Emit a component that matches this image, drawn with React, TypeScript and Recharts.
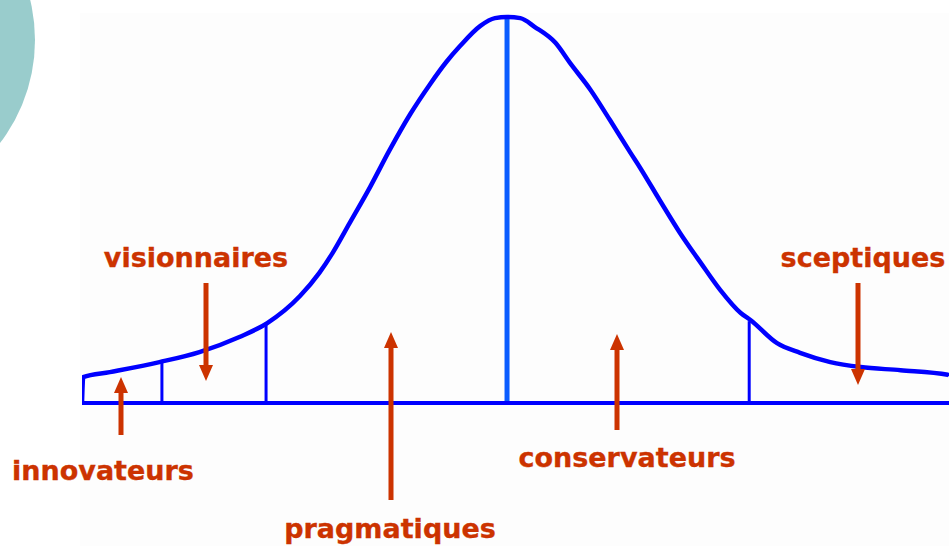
import React from 'react';
import { LineChart, Line, XAxis, YAxis, ReferenceLine } from 'recharts';

// bell curve, x in std-dev-ish units, y as % of the peak
const curveX = [
  -3.51, -3.5, -3.28, -2.87, -2.54, -2.21, -1.98, -1.71, -1.55, -1.44, -1.3, -1.13, -0.97, -0.8,
  -0.64, -0.5, -0.39, -0.22, -0.1, 0, 0.11, 0.23, 0.4, 0.52, 0.69, 0.85, 1.02, 1.1, 1.26, 1.43,
  1.6, 1.76, 1.93, 2.01, 2.23, 2.42, 2.67, 2.92, 3.25, 3.64, 3.65,
];
const curveY = [
  0, 6.7, 8.0, 10.6, 13.2, 17.1, 20.7, 27.7, 33.7, 38.9, 46.6, 56.0, 65.5, 74.8,
  82.4, 88.4, 92.4, 97.7, 99.7, 100, 99.7, 97.4, 93.3, 88.1, 81.1, 73.3, 64.8, 60.9, 52.6, 44.0,
  36.3, 29.3, 23.3, 21.5, 15.5, 13.0, 10.6, 9.3, 8.5, 7.3, 7.0,
];

// segment limits
const dividerX = [-2.85, -1.99, 0, 2.0];
const dividerTop = [10.9, 20.7, 100, 21.2];

const groupLabels = ['innovateurs', 'visionnaires', 'pragmatiques', 'conservateurs', 'sceptiques'];

const curveData = curveX.map((x, i) => ({ x, y: curveY[i] }));

const RED = '#cc3300';
const BLUE = '#0000ff';

// where each label and its arrow sit on the slide
const layout = [
  { tx: 103, ty: 480, ax: 121, from: 435, to: 377 },
  { tx: 196, ty: 267, ax: 206, from: 283, to: 381 },
  { tx: 390, ty: 538, ax: 391, from: 500, to: 332 },
  { tx: 627, ty: 467, ax: 617, from: 430, to: 334 },
  { tx: 863, ty: 267, ax: 858, from: 283, to: 385 },
];

const Arrow = ({ x, from, to }: { x: number; from: number; to: number }) => {
  const dir = to > from ? 1 : -1;
  const head = 16;
  return (
    <g>
      <line x1={x} y1={from} x2={x} y2={to - dir * head} stroke={RED} strokeWidth={5} />
      <polygon
        points={`${x - 7},${to - dir * head} ${x + 7},${to - dir * head} ${x},${to}`}
        fill={RED}
      />
    </g>
  );
};

export default function App() {
  return (
    <div style={{ position: 'absolute', left: 0, top: 0, width: 949, height: 546, background: '#fff', overflow: 'hidden' }}>
      <svg width={949} height={546} style={{ position: 'absolute', left: 0, top: 0 }}>
        <rect x={80} y={13} width={869} height={533} fill="#fdfdfd" />
        <circle cx={-134} cy={40} r={169} fill="#99cccc" />
      </svg>
      <div style={{ position: 'absolute', left: 0, top: 0 }}>
        <LineChart width={949} height={546} data={curveData} margin={{ top: 17, right: 0, bottom: 143, left: 82 }}>
          <XAxis dataKey="x" type="number" domain={[-3.51, 3.65]} hide allowDataOverflow />
          <YAxis type="number" domain={[0, 100]} hide />
          {dividerX.map((x, i) => (
            <Line
              key={`div-${i}`}
              data={[{ x, y: 0 }, { x, y: dividerTop[i] }]}
              dataKey="y"
              stroke={x === 0 ? '#0a5cff' : BLUE}
              strokeWidth={x === 0 ? 5 : 3}
              dot={false}
              isAnimationActive={false}
            />
          ))}
          <ReferenceLine y={0} stroke={BLUE} strokeWidth={4} />
          <Line
            type="monotone"
            dataKey="y"
            stroke={BLUE}
            strokeWidth={4.5}
            strokeLinejoin="round"
            dot={false}
            isAnimationActive={false}
          />
        </LineChart>
      </div>
      <svg width={949} height={546} style={{ position: 'absolute', left: 0, top: 0 }}>
        {groupLabels.map((label, i) => {
          const p = layout[i];
          return (
            <g key={label}>
              <Arrow x={p.ax} from={p.from} to={p.to} />
              <text
                x={p.tx}
                y={p.ty}
                textAnchor="middle"
                fill={RED}
                stroke={RED}
                strokeWidth={0.35}
                fontFamily="'DejaVu Sans', Verdana, sans-serif"
                fontWeight="bold"
                fontSize={27}
              >
                {label}
              </text>
            </g>
          );
        })}
      </svg>
    </div>
  );
}
